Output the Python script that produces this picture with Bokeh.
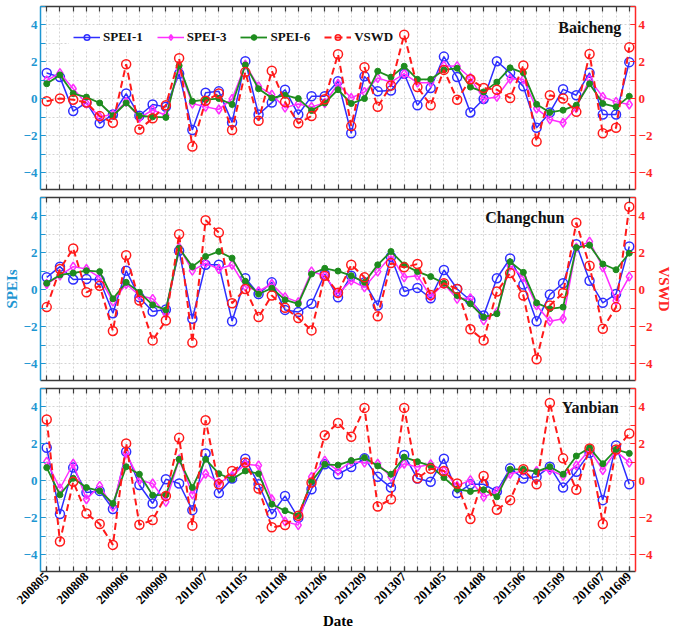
from bokeh.plotting import figure
from bokeh.models import (Range1d, LinearAxis, FixedTicker, SingleIntervalTicker,
                          Legend, LegendItem, Label, ColumnDataSource)
from bokeh.layouts import column
from bokeh.embed import file_html
from bokeh.resources import INLINE

# ---------------- data ----------------
dates = ["200805", "200806", "200807", "200808", "200809",
         "200905", "200906", "200907", "200908", "200909",
         "201005", "201006", "201007", "201008", "201009",
         "201105", "201106", "201107", "201108", "201109",
         "201205", "201206", "201207", "201208", "201209",
         "201305", "201306", "201307", "201308", "201309",
         "201405", "201406", "201407", "201408", "201409",
         "201505", "201506", "201507", "201508", "201509",
         "201605", "201606", "201607", "201608", "201609"]

tick_dates = ["200805", "200808", "200906", "200909", "201007", "201105",
              "201108", "201206", "201209", "201307", "201405", "201408",
              "201506", "201509", "201607", "201609"]

stations = ["Baicheng", "Changchun", "Yanbian"]

spei1_baicheng = [1.40, 1.18, -0.66, -0.20, -1.32, -0.84, 0.29, -0.91, -0.30, -0.43,
                  1.36, -1.68, 0.34, 0.41, -1.27, 2.04, -0.84, -0.20, 0.50, -0.84,
                  0.14, 0.14, 0.95, -1.86, 1.22, 0.41, 0.45, 1.36, -0.34, 0.59,
                  2.29, 1.18, -0.73, 0.00, 2.04, 1.41, 0.68, -1.56, -0.73, 0.52,
                  0.20, 1.41, -0.84, -0.84, 1.99]
spei3_baicheng = [1.00, 1.40, 0.55, -0.25, -0.97, -0.84, -0.16, -1.02, -0.60, -0.88,
                  1.63, -0.25, -0.43, -0.57, 0.00, 1.85, 0.68, 0.23, -0.47, -0.27,
                  -0.43, -0.22, 0.82, 0.05, 0.38, 1.13, 0.91, 1.36, 0.88, 0.88,
                  1.80, 1.77, 1.13, 0.00, 0.11, 1.09, 1.06, -0.52, -1.11, -1.29,
                  -0.48, 1.06, 0.11, -0.16, -0.30]
spei6_baicheng = [0.82, 1.30, 0.29, 0.10, -0.22, -0.91, -0.22, -0.91, -0.97, -1.00,
                  1.80, -0.13, -0.04, 0.02, -0.30, 1.84, 0.55, 0.05, 0.20, 0.02,
                  -0.63, -0.22, 0.50, -0.25, 0.02, 1.50, 1.18, 1.77, 1.06, 1.06,
                  1.57, 1.66, 0.64, 0.38, 0.91, 1.68, 1.41, -0.29, -0.73, -0.61,
                  -0.34, 0.82, -0.25, -0.43, 0.14]
vswd_baicheng = [-0.13, 0.02, -0.04, -0.20, -0.93, -1.29, 1.88, -1.65, -1.05, -0.34,
                 2.20, -2.58, -0.10, 0.29, -1.68, 1.45, -1.18, 1.52, -0.16, -1.32,
                 -0.93, -0.02, 2.42, -1.47, 1.72, -0.43, 0.73, 3.47, 0.64, -0.34,
                 1.57, -0.04, 1.06, 0.59, 0.50, 0.05, 1.81, -2.31, 0.20, 0.02,
                 -0.70, 2.43, -1.86, -1.56, 2.79]

spei1_changchun = [0.68, 1.26, 0.56, 0.59, 0.54, -1.26, 1.04, -0.39, -1.17, -1.06,
                   2.12, -1.56, 1.36, 1.36, -1.69, 0.63, -0.22, 0.41, -1.08, -1.20,
                   -0.75, 0.86, -0.40, 0.77, 0.41, -0.84, 1.79, -0.09, 0.11, -0.45,
                   1.08, 0.05, -0.57, -1.38, 0.63, 1.70, 0.30, -1.70, -0.25, 0.36,
                   2.47, 0.50, -0.70, -0.22, 2.35]
spei3_changchun = [0.32, 0.77, 1.26, 1.13, 0.68, -0.63, 0.32, -0.30, -0.48, -1.29,
                   2.30, 1.04, 1.45, 1.13, 1.36, 0.18, -0.07, 0.32, -0.39, -0.66,
                   1.00, 0.77, -0.20, 0.50, 0.14, 0.99, 1.85, 0.68, 0.77, -0.36,
                   0.32, -0.48, -0.45, -1.65, -1.20, 1.31, 0.68, -0.84, -1.69, -1.56,
                   2.29, 2.61, 1.22, -0.58, 0.72]
spei6_changchun = [0.36, 0.81, 0.91, 1.04, 0.99, -0.48, 0.41, -0.13, -0.81, -1.08,
                   2.26, 1.26, 1.81, 2.08, 1.72, 0.47, -0.22, 0.09, -0.54, -0.75,
                   0.86, 1.17, 1.02, 0.77, 0.41, 1.36, 2.08, 1.35, 0.99, 0.72,
                   0.36, -0.30, -0.75, -1.47, -1.29, 1.52, 0.95, -0.70, -1.02, -0.93,
                   2.29, 2.42, 1.40, 1.09, 1.99]
vswd_changchun = [-0.93, 1.13, 2.24, -0.13, 0.23, -2.22, 1.88, -0.57, -2.73, -1.65,
                  3.01, -2.85, 3.77, 3.10, -0.72, 0.05, -1.47, -0.30, -0.97, -1.52,
                  -2.19, 0.77, -0.15, 1.36, 0.68, -1.43, 1.45, 1.22, 1.40, -0.27,
                  0.36, 0.05, -2.13, -2.73, -0.09, 0.91, -0.30, -3.75, -0.84, -0.16,
                  3.64, 1.31, -2.10, -0.93, 4.50]

spei1_yanbian = [1.79, -1.79, 0.72, -0.63, -0.54, -1.52, 1.58, -0.22, -1.22, 0.09,
                 -0.14, -1.58, 1.49, -0.66, 0.13, 1.20, -0.18, -1.79, -0.81, -2.00,
                 -0.45, 0.90, 0.36, 0.75, 1.22, 0.22, -0.36, 1.40, 0.13, -0.04,
                 1.20, -0.66, -0.18, -0.18, -0.57, 0.68, 0.13, 0.22, 0.77, -0.36,
                 0.50, 1.52, -1.04, 1.92, -0.18]
spei3_yanbian = [1.04, -0.41, 0.93, -0.99, -0.27, -1.40, 1.50, 0.04, -0.14, -1.13,
                 1.17, -0.72, 0.39, -0.09, 0.27, 0.90, 0.84, -0.99, -2.19, -2.39,
                 0.22, 1.10, 0.54, 1.04, 0.99, 0.93, 0.22, 0.93, 0.75, 0.90,
                 0.54, -0.27, 0.04, -0.86, -0.57, 0.39, 0.54, 0.54, 0.59, 0.27,
                 0.84, 1.70, 0.59, 1.61, 0.99]
spei6_yanbian = [0.72, -0.75, 0.14, -0.36, -0.54, -1.22, 0.77, 0.36, -0.77, -0.75,
                 1.17, -0.36, 1.17, 0.39, 0.09, 0.54, 0.39, -1.26, -1.61, -1.88,
                 -0.04, 0.90, 0.86, 1.10, 1.26, 0.81, 0.36, 1.29, 1.04, 0.81,
                 0.18, -0.45, -0.57, -0.48, -0.86, 0.63, 0.63, 0.50, 0.77, 0.36,
                 1.35, 1.79, 0.93, 1.70, 1.49]
vswd_yanbian = [3.32, -3.28, -0.05, -1.76, -2.33, -3.46, 2.03, -2.37, -2.12, -0.81,
                2.33, -2.42, 3.28, -0.18, 0.54, 0.99, -0.41, -2.51, -2.39, -1.88,
                -0.09, 2.47, 3.14, 2.39, 3.95, -1.38, -0.99, 3.95, 0.14, 0.66,
                0.54, -0.14, -2.06, 0.27, -1.56, -1.04, 0.63, -0.18, 4.22, 1.22,
                -0.48, 1.76, -2.33, 1.70, 2.57]

series_names = ["SPEI-1", "SPEI-3", "SPEI-6", "VSWD"]

# ---------------- style ----------------
FONT = "Liberation Serif"
BLUE_AX = "#1E96D2"
RED_AX = "#FF2626"
FRAME_AX = "#3a3a3a"
C_S1 = "#2E2EFF"
C_S3 = "#FF2EFF"
C_S6 = "#1E8C1E"
C_VS = "#FF1A1A"
FW, FH = 595, 183
X_MIN, X_MAX = -0.47, len(dates) - 1 + 0.47
Y_MIN, Y_MAX = -4.9, 5.0

xs = list(range(len(dates)))
major_idx = [dates.index(d) for d in tick_dates]


def style_frame_axis(ax):
    ax.axis_line_color = FRAME_AX
    ax.axis_line_width = 1.5
    ax.major_tick_line_color = FRAME_AX
    ax.minor_tick_line_color = FRAME_AX
    ax.major_tick_in = 5
    ax.major_tick_out = 0
    ax.minor_tick_in = 5
    ax.minor_tick_out = 0
    ax.major_tick_line_width = 1.2
    ax.minor_tick_line_width = 1.2


def style_y_axis(ax, color):
    ax.ticker = SingleIntervalTicker(interval=2, num_minor_ticks=2)
    ax.axis_line_color = color
    ax.axis_line_width = 1.5
    ax.major_tick_line_color = color
    ax.minor_tick_line_color = color
    ax.major_tick_in = 5
    ax.major_tick_out = 0
    ax.minor_tick_in = 5
    ax.minor_tick_out = 0
    ax.major_tick_line_width = 1.2
    ax.minor_tick_line_width = 1.2
    ax.major_label_text_color = color
    ax.major_label_text_font = FONT
    ax.major_label_text_font_style = "bold"
    ax.major_label_text_font_size = "13px"
    ax.major_label_standoff = 3
    ax.axis_label_text_color = color
    ax.axis_label_text_font = FONT
    ax.axis_label_text_font_style = "bold"
    ax.axis_label_text_font_size = "15px"
    ax.axis_label_standoff = 1


def make_panel(pos, station, s1, s3, s6, vs, label_x, label_y):
    last = pos == 2
    p = figure(frame_width=FW, frame_height=FH,
               x_range=Range1d(X_MIN, X_MAX), y_range=Range1d(Y_MIN, Y_MAX),
               output_backend="svg", toolbar_location=None,
               min_border_left=34, min_border_right=30,
               min_border_top=6 if pos == 0 else 4, min_border_bottom=4)
    p.extra_y_ranges = {"vswd": Range1d(Y_MIN, Y_MAX)}
    p.outline_line_color = None
    p.background_fill_color = "white"

    # grids
    p.xgrid.ticker = FixedTicker(ticks=xs)
    p.ygrid.ticker = SingleIntervalTicker(interval=1)
    p.xgrid.grid_line_color = "#d4d4d4"
    p.ygrid.grid_line_color = "#d4d4d4"
    p.xgrid.grid_line_dash = "2 2"
    p.ygrid.grid_line_dash = "2 2"

    # bottom axis
    xb = p.xaxis[0]
    style_frame_axis(xb)
    if last:
        xb.ticker = FixedTicker(ticks=major_idx, minor_ticks=xs)
        xb.major_label_overrides = {i: dates[i] for i in major_idx}
        xb.major_label_orientation = 0.785398
        xb.major_label_text_font = FONT
        xb.major_label_text_font_style = "bold"
        xb.major_label_text_font_size = "13px"
        xb.major_label_text_color = "black"
        xb.major_label_standoff = 3
        xb.axis_label = "Date"
        xb.axis_label_text_font = FONT
        xb.axis_label_text_font_style = "bold"
        xb.axis_label_text_font_size = "15px"
        xb.axis_label_text_color = "black"
        xb.axis_label_standoff = 2
    else:
        xb.ticker = FixedTicker(ticks=[], minor_ticks=xs)

    # top axis
    xt = LinearAxis(ticker=FixedTicker(ticks=[], minor_ticks=xs))
    style_frame_axis(xt)
    p.add_layout(xt, "above")

    # left axis
    yl = p.yaxis[0]
    style_y_axis(yl, BLUE_AX)
    # right axis
    yr = LinearAxis(y_range_name="vswd")
    style_y_axis(yr, RED_AX)
    p.add_layout(yr, "right")
    if pos == 1:
        yl.axis_label = "SPEIs"
        yr.axis_label = "VSWD"

    src = ColumnDataSource(dict(x=xs, s1=s1, s3=s3, s6=s6, vs=vs, date=dates))

    l1 = p.line("x", "s1", source=src, line_color=C_S1, line_width=1.5)
    m1 = p.scatter("x", "s1", source=src, marker="circle", size=9,
                   line_color=C_S1, line_width=1.5, fill_alpha=0)
    l3 = p.line("x", "s3", source=src, line_color=C_S3, line_width=1.5)
    m3 = p.scatter("x", "s3", source=src, marker="diamond", size=9,
                   line_color=C_S3, line_width=1.5, fill_alpha=0)
    l6 = p.line("x", "s6", source=src, line_color=C_S6, line_width=1.8)
    m6 = p.scatter("x", "s6", source=src, marker="circle", size=6,
                   line_color=C_S6, fill_color=C_S6)
    lv = p.line("x", "vs", source=src, y_range_name="vswd", line_color=C_VS,
                line_width=2, line_dash="7 4")
    mv = p.scatter("x", "vs", source=src, y_range_name="vswd", marker="circle",
                   size=9, line_color=C_VS, line_width=1.5, fill_alpha=0)

    p.add_layout(Label(x=label_x, y=label_y, text=station, text_align="right",
                       text_baseline="middle", text_font=FONT,
                       text_font_style="bold", text_font_size="16px",
                       text_color="#111111"))

    if pos == 0:
        items = [LegendItem(label=series_names[0], renderers=[l1, m1]),
                 LegendItem(label=series_names[1], renderers=[l3, m3]),
                 LegendItem(label=series_names[2], renderers=[l6, m6]),
                 LegendItem(label=series_names[3], renderers=[lv, mv])]
        leg = Legend(items=items, orientation="horizontal", location=(29, 140),
                     glyph_width=27, glyph_height=14, label_standoff=3,
                     spacing=14, padding=4, margin=0,
                     label_text_font=FONT, label_text_font_style="bold",
                     label_text_font_size="13px", label_text_color="#111111",
                     border_line_alpha=0, background_fill_alpha=1,
                     background_fill_color="white")
        p.add_layout(leg)
    return p


p1 = make_panel(0, stations[0], spei1_baicheng, spei3_baicheng, spei6_baicheng,
                vswd_baicheng, 43.4, 3.87)
p2 = make_panel(1, stations[1], spei1_changchun, spei3_changchun, spei6_changchun,
                vswd_changchun, 39.1, 3.9)
p3 = make_panel(2, stations[2], spei1_yanbian, spei3_yanbian, spei6_yanbian,
                vswd_yanbian, 43.2, 3.95)

layout = column(p1, p2, p3, spacing=0)
open("out.html", "w").write(file_html(layout, INLINE))
